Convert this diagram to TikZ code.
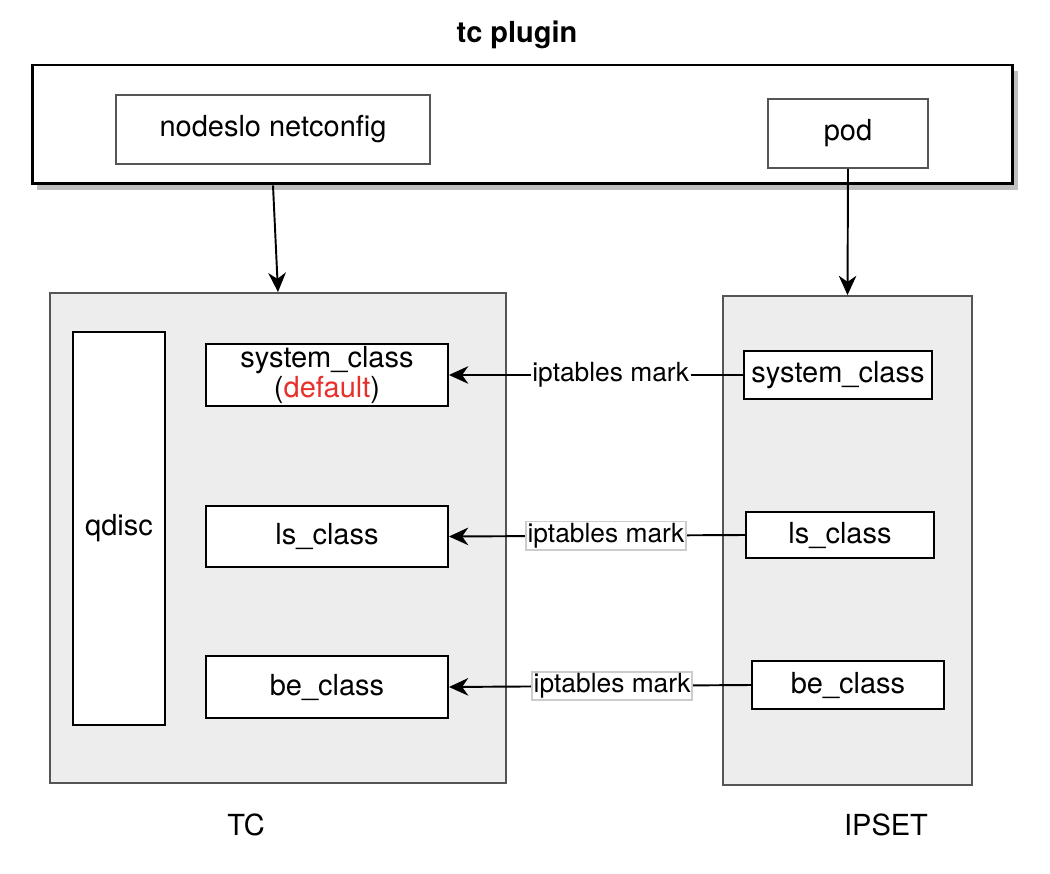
\documentclass[tikz,border=0pt]{standalone}
\usepackage{fontspec}
\setmainfont{TeX Gyre Heros}
\usepackage{tikz}
\usetikzlibrary{arrows.meta,positioning,shadows,calc}
\definecolor{panelgray}{HTML}{EDEDED}
\definecolor{edgegray}{HTML}{555555}
\definecolor{dfltred}{HTML}{E8302A}

\begin{document}
\begin{tikzpicture}[x=0.02cm,y=-0.02cm,
    box/.style={draw=black,fill=white,line width=1.1pt,inner sep=0pt,align=center,
        font=\fontsize{16.5}{19.5}\selectfont},
    panel/.style={draw=edgegray,fill=panelgray,line width=1.1pt,inner sep=0pt},
    lbl/.style={fill=white,inner sep=1pt,font=\fontsize{15}{18}\selectfont},
    link/.style={line width=1.1pt,-{Stealth[length=11pt,width=10pt,inset=3.5pt]}}]
\useasboundingbox (0,0) rectangle (1050,874);

\node[font=\bfseries\fontsize{16.5}{19.5}\selectfont] (title) at (517,35) {tc plugin};

% plugin
\node[draw=black,fill=white,line width=1.7pt,minimum width=19.62cm,minimum height=2.38cm,
    drop shadow={shadow xshift=0.1cm,shadow yshift=-0.12cm,fill=black!25,opacity=1}]
    (plug) at (522.5,124.5) {};
\node[box,draw=edgegray,minimum width=6.28cm,minimum height=1.38cm] (nsnc) at (273,129.5) {nodeslo netconfig};
\node[box,draw=edgegray,minimum width=3.2cm,minimum height=1.38cm] (pod) at (848,133.5) {pod};

% TC side
\node[panel,minimum width=9.12cm,minimum height=9.8cm] (tc) at (278,538) {};
\node[box,minimum width=1.84cm,minimum height=7.86cm] (qd) at (119,528.5) {qdisc};
\node[box,minimum width=4.84cm,minimum height=1.24cm] (sys) at (327,375)
    {system\_class\\[-2pt](\textcolor{dfltred}{default})};
\node[box,minimum width=4.84cm,minimum height=1.22cm] (ls) at (327,536.5) {ls\_class};
\node[box,minimum width=4.84cm,minimum height=1.24cm] (be) at (327,687) {be\_class};
\node[font=\fontsize{16.5}{19.5}\selectfont] (tclbl) at (246,825) {TC};

% IPSET side
\node[panel,minimum width=4.98cm,minimum height=9.78cm] (ipset) at (847.5,540.5) {};
\node[box,minimum width=3.76cm,minimum height=0.96cm] (sys2) at (838,375) {system\_class};
\node[box,minimum width=3.76cm,minimum height=0.92cm] (ls2) at (840,535) {ls\_class};
\node[box,minimum width=3.84cm,minimum height=0.96cm] (be2) at (848,685) {be\_class};
\node[font=\fontsize{16.5}{19.5}\selectfont] (iplbl) at (886,825) {IPSET};

\draw[link] (nsnc.south |- plug.south) -- (tc.north);
\draw[link] (pod.south) -- (ipset.north);

\draw[link] (sys2.west) -- node[lbl,pos=0.45] {iptables mark} (sys.east);
\draw[link] (ls2.west) -- node[lbl,draw=black!20,pos=0.47] {iptables mark} (ls.east);
\draw[link] (be2.west) -- node[lbl,draw=black!20,pos=0.46] {iptables mark} (be.east);

\end{tikzpicture}
\end{document}
